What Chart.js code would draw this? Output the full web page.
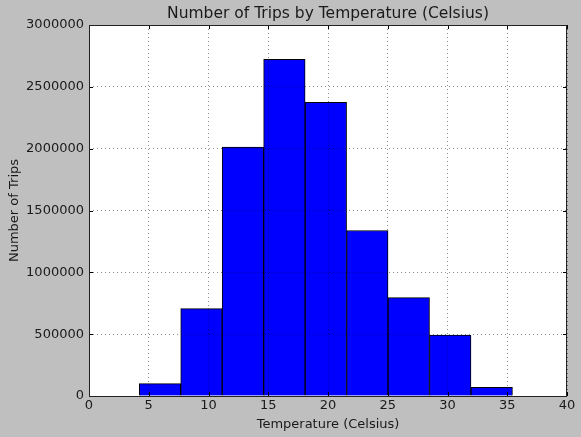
<!DOCTYPE html>
<html>
<head>
<meta charset="utf-8">
<script src="https://cdn.jsdelivr.net/npm/chart.js@4/dist/chart.umd.min.js"></script>
<style>
  html, body { margin: 0; padding: 0; background: #bfbfbf; }
  #wrap { width: 581px; height: 437px; }
</style>
</head>
<body>
<div id="wrap"><canvas id="c"></canvas></div>
<script>
// histogram bins (temperature, celsius) and trip counts
const binCenters = [5.94, 9.41, 12.88, 16.35, 19.82, 23.29, 26.76, 30.23, 33.70];
const tripCounts = [100000, 707000, 2012000, 2722000, 2374000, 1338000, 796000, 493000, 70000];
const xTicks = [0, 5, 10, 15, 20, 25, 30, 35, 40];
const yTicks = [0, 500000, 1000000, 1500000, 2000000, 2500000, 3000000];

const FONT = "'DejaVu Sans', sans-serif";

// white plot background
const bgPlugin = {
  id: 'plotBg',
  beforeDraw(chart) {
    const { ctx, chartArea: a } = chart;
    ctx.save();
    ctx.fillStyle = '#ffffff';
    ctx.fillRect(a.left, a.top, a.right - a.left, a.bottom - a.top);
    ctx.restore();
  }
};

// frame, inward tick marks and title centred over the plot
const framePlugin = {
  id: 'frame',
  afterDraw(chart) {
    const { ctx, chartArea: a, scales } = chart;
    ctx.save();
    ctx.strokeStyle = '#000';
    ctx.lineWidth = 1;
    ctx.beginPath();
    xTicks.forEach(v => {
      const px = Math.round(scales.x.getPixelForValue(v)) + 0.5;
      ctx.moveTo(px, a.bottom); ctx.lineTo(px, a.bottom - 4);
      ctx.moveTo(px, a.top); ctx.lineTo(px, a.top + 4);
    });
    yTicks.forEach(v => {
      const py = Math.round(scales.y.getPixelForValue(v)) + 0.5;
      ctx.moveTo(a.left, py); ctx.lineTo(a.left + 4, py);
      ctx.moveTo(a.right, py); ctx.lineTo(a.right - 4, py);
    });
    ctx.stroke();
    ctx.strokeStyle = '#222';
    ctx.strokeRect(a.left + 0.5, a.top + 0.5, a.right - a.left - 1, a.bottom - a.top);
    ctx.fillStyle = '#1a1a1a';
    ctx.font = '15.5px ' + FONT;
    ctx.textAlign = 'center';
    ctx.textBaseline = 'middle';
    ctx.fillText('Number of Trips by Temperature (Celsius)', (a.left + a.right) / 2, 14);
    ctx.restore();
  }
};

const canvas = document.getElementById('c');
canvas.width = 581;
canvas.height = 437;

new Chart(canvas, {
  type: 'bar',
  data: {
    datasets: [{
      label: 'Trips',
      data: binCenters.map((x, i) => ({ x: x, y: tripCounts[i] })),
      backgroundColor: '#0000ff',
      borderColor: '#000000',
      borderWidth: 1,
      barPercentage: 1.0,
      categoryPercentage: 1.0
    }]
  },
  options: {
    responsive: false,
    animation: false,
    layout: { padding: { top: 25, right: 14, left: 7, bottom: 5 } },
    plugins: {
      legend: { display: false },
      title: { display: false },
      tooltip: { enabled: false }
    },
    scales: {
      x: {
        type: 'linear',
        min: 0,
        max: 40,
        offset: false,
        afterBuildTicks: s => { s.ticks = xTicks.map(v => ({ value: v })); },
        afterFit: s => { s.height = 36; },
        grid: {
          z: 1,
          offset: false,
          color: 'rgba(0,0,0,0.45)',
          lineWidth: 1,
          drawTicks: false
        },
        border: { display: false, dash: [1, 3] },
        ticks: {
          color: '#1a1a1a',
          font: { family: FONT, size: 13 },
          padding: 2,
          maxRotation: 0,
          autoSkip: false
        },
        title: {
          display: true,
          text: 'Temperature (Celsius)',
          color: '#1a1a1a',
          font: { family: FONT, size: 13 },
          padding: { top: 1, bottom: 0 }
        }
      },
      y: {
        min: 0,
        max: 3000000,
        afterBuildTicks: s => { s.ticks = yTicks.map(v => ({ value: v })); },
        afterFit: s => { s.width = 82; },
        grid: {
          z: 1,
          color: 'rgba(0,0,0,0.45)',
          lineWidth: 1,
          drawTicks: false
        },
        border: { display: false, dash: [1, 3] },
        ticks: {
          color: '#1a1a1a',
          font: { family: FONT, size: 13 },
          padding: 5,
          callback: v => String(v)
        },
        title: {
          display: true,
          text: 'Number of Trips',
          color: '#1a1a1a',
          font: { family: FONT, size: 13 },
          padding: { top: 0, bottom: 2 }
        }
      }
    }
  },
  plugins: [bgPlugin, framePlugin]
});
</script>
</body>
</html>
